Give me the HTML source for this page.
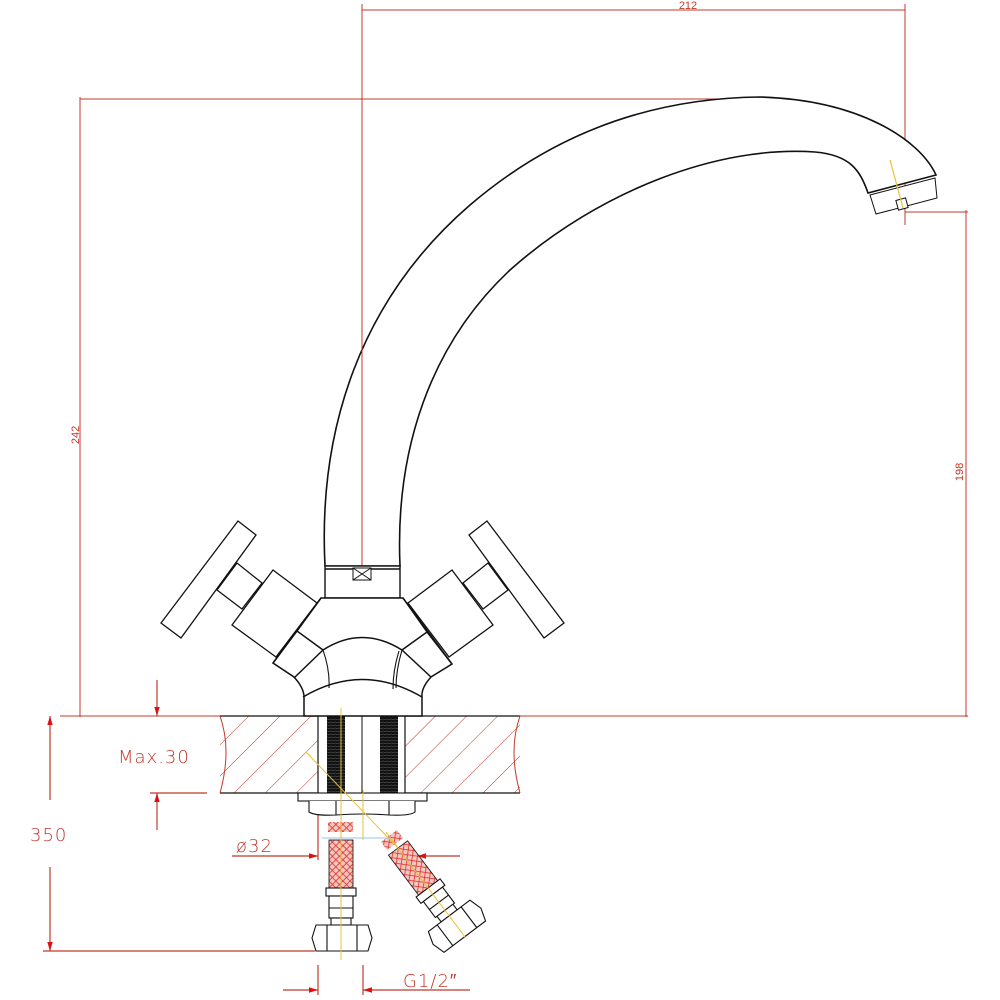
<!DOCTYPE html>
<html><head><meta charset="utf-8"><style>html,body{margin:0;padding:0;background:#fff}svg{display:block}</style></head>
<body>
<svg width="1000" height="1000" viewBox="0 0 1000 1000" xmlns="http://www.w3.org/2000/svg">
<defs>
<pattern id="hatch" width="22" height="22" patternUnits="userSpaceOnUse" patternTransform="rotate(45)">
<line x1="0" y1="0" x2="0" y2="22" stroke="#c0392b" stroke-width="1"/></pattern>
<pattern id="cross" width="5" height="5" patternUnits="userSpaceOnUse" patternTransform="rotate(45)">
<rect width="5" height="5" fill="#f3c6c0"/>
<line x1="0" y1="0" x2="0" y2="5" stroke="#e0302a" stroke-width="1.6"/>
<line x1="0" y1="0" x2="5" y2="0" stroke="#e0302a" stroke-width="1.6"/></pattern>
<pattern id="thread" width="4" height="3" patternUnits="userSpaceOnUse">
<rect width="4" height="3" fill="#111"/><line x1="0" y1="2.5" x2="4" y2="2" stroke="#666" stroke-width="0.6"/></pattern>
<marker id="ar" viewBox="0 0 10 10" refX="10" refY="5" markerWidth="9" markerHeight="9" orient="auto-start-reverse" markerUnits="userSpaceOnUse"><path d="M0,2 L10,5 L0,8z" fill="#d11"/></marker>
</defs>

<g stroke="#c0392b" stroke-width="1" fill="none">
<line x1="905" y1="4" x2="905" y2="225"/>
<line x1="362" y1="10" x2="905" y2="10"/>
<line x1="80" y1="99" x2="760" y2="99"/>
<line x1="80" y1="97" x2="80" y2="717"/>
<line x1="905" y1="212" x2="968" y2="212"/>
<line x1="966" y1="210" x2="966" y2="717"/>
<line x1="405" y1="716" x2="968" y2="716"/>
<line x1="60" y1="716" x2="220" y2="716"/>
</g>
<g fill="#c0392b" font-family="Liberation Sans, sans-serif" font-size="11">
<text x="688" y="9" text-anchor="middle">212</text>
<text transform="translate(79,435) rotate(-90)" text-anchor="middle">242</text>
<text transform="translate(963,472) rotate(-90)" text-anchor="middle">198</text>
</g>

<rect x="220" y="716" width="300" height="77" fill="url(#hatch)"/>
<rect x="318" y="716" width="87" height="77" fill="#fff"/>
<g stroke="#111" stroke-width="1.2" fill="none">
<line x1="220" y1="716" x2="318" y2="716"/><line x1="405" y1="716" x2="520" y2="716"/>
<line x1="220" y1="793" x2="318" y2="793"/><line x1="405" y1="793" x2="520" y2="793"/>
<line x1="318" y1="716" x2="318" y2="793"/><line x1="405" y1="716" x2="405" y2="793"/>
</g>
<path d="M220,716 Q232,750 220,793 M520,716 Q508,750 520,793" stroke="#c0392b" fill="none"/>
<rect x="327" y="716" width="18" height="77" fill="url(#thread)"/>
<rect x="380" y="716" width="18" height="77" fill="url(#thread)"/>
<line x1="362" y1="716" x2="362" y2="793" stroke="#111"/>

<g stroke="#c0392b" stroke-width="1.2" fill="none">
<line x1="157" y1="680" x2="157" y2="716" marker-end="url(#ar)"/>
<line x1="157" y1="830" x2="157" y2="793" marker-end="url(#ar)"/>
<line x1="150" y1="793" x2="207" y2="793"/>
<line x1="50" y1="800" x2="50" y2="716" marker-end="url(#ar)"/>
<line x1="50" y1="867" x2="50" y2="951" marker-end="url(#ar)"/>
<line x1="43" y1="951" x2="315" y2="951"/>
<line x1="232" y1="856" x2="318" y2="856" marker-end="url(#ar)"/>
<line x1="460" y1="856" x2="417" y2="856" marker-end="url(#ar)"/>
<line x1="318" y1="805" x2="318" y2="860"/>
<line x1="283" y1="990" x2="318" y2="990" marker-end="url(#ar)"/>
<line x1="470" y1="990" x2="363" y2="990" marker-end="url(#ar)"/>
<line x1="318" y1="965" x2="318" y2="995"/><line x1="363" y1="965" x2="363" y2="995"/>
</g>
<g fill="#c0392b" font-family="DejaVu Sans, sans-serif" font-size="18" font-weight="200" letter-spacing="1">
<text x="118" y="763">Max.30</text>
<text x="30" y="841">350</text>
<text x="236" y="852">ø32</text>
<text x="403" y="987">G1/2″</text>
</g>

<g stroke="#111" stroke-width="1.6" fill="#fff">
<path d="M325,566 C318,430 360,300 470,205 C560,128 660,98 760,97 C860,100 920,140 936,175 L868,193 C860,170 850,155 815,152 C720,145 600,190 510,270 C430,345 395,450 400,566 Z"/>
<path d="M870,195 L935,178 L937,198 L876,214 Z" stroke-width="1"/>
<rect x="897" y="199" width="10" height="10" stroke-width="1" transform="rotate(-15 902 204)"/>
</g>
<line x1="890" y1="160" x2="903" y2="208" stroke="#e8c23a" stroke-width="1.2"/>
<line x1="362" y1="4" x2="362" y2="566" stroke="#c0392b"/>

<g stroke="#111" stroke-width="1.4" fill="#fff">
<rect x="325" y="566" width="75" height="32"/>
<line x1="325" y1="569" x2="400" y2="569"/>
<rect x="353" y="568" width="18" height="12" stroke-width="1"/>
<path d="M353,568 L371,580 M371,568 L353,580" stroke-width="1"/>
</g>

<g id="hl" stroke="#111" stroke-width="1.3" fill="#fff">
<polygon points="161,623 238,521 256,535 181,638"/>
<polygon points="217,590 237,563 262,583 242,609"/>
<polygon points="232,625 273,570 317,603 276,657"/>
</g>
<use href="#hl" transform="translate(725,0) scale(-1,1)"/>

<g stroke="#111" stroke-width="1.5" fill="#fff">
<path d="M321,598 L403,598 L452,664 L431,677 Q421,688 422,697 L422,716 L304,716 L304,697 Q304,688 294,677 L273,663 Z"/>
<path d="M273,663 L297,631 L323,650 L294,678 M452,664 L427,632 L402,650 L431,677" fill="none"/>
<path d="M297,631 L321,598 M427,632 L403,598" fill="none"/>
<path d="M323,650 Q362,625 402,650" fill="none"/>
<path d="M303,697 Q362,662 422,697" fill="none"/>
<path d="M323,650 Q330,670 329,688 M402,650 Q396,670 396,688 M399,651 Q393,670 393,689" fill="none" stroke-width="1.1"/>
</g>

<g stroke="#111" stroke-width="1.1" fill="#fff">
<rect x="298" y="793" width="129" height="8"/>
<path d="M309,801 L309,812 Q315,816 336,815 Q362,813 389,815 Q410,816 415,812 L415,801"/>
<line x1="336" y1="801" x2="336" y2="815"/><line x1="389" y1="801" x2="389" y2="815"/>
</g>

<rect x="328" y="822" width="25" height="10" fill="url(#cross)"/>
<rect x="329" y="840" width="24" height="50" fill="url(#cross)" stroke="#111" stroke-width="0.8"/>
<g stroke="#111" stroke-width="1.1" fill="#fff">
<rect x="326" y="888" width="30" height="8"/>
<rect x="329" y="896" width="24" height="22"/>
<line x1="329" y1="908" x2="353" y2="908"/>
<rect x="331" y="918" width="20" height="7"/>
<path d="M316,925 L368,925 L372,938 L368,951 L316,951 L312,938 Z"/>
<line x1="327" y1="925" x2="327" y2="951"/><line x1="357" y1="925" x2="357" y2="951"/>
</g>
<line x1="341" y1="708" x2="341" y2="960" stroke="#e8c23a" stroke-width="1"/>

<g transform="translate(398,848) rotate(-37)">
<rect x="-10" y="-15" width="20" height="10" fill="url(#cross)"/>
<rect x="-12" y="0" width="24" height="52" fill="url(#cross)" stroke="#111" stroke-width="0.8"/>
<g stroke="#111" stroke-width="1.1" fill="#fff">
<rect x="-15" y="50" width="30" height="8"/>
<rect x="-12" y="58" width="24" height="20"/>
<line x1="-12" y1="68" x2="12" y2="68"/>
<rect x="-10" y="78" width="20" height="7"/>
<path d="M-26,85 L26,85 L30,98 L26,111 L-26,111 L-30,98 Z"/>
<line x1="-15" y1="85" x2="-15" y2="111"/><line x1="15" y1="85" x2="15" y2="111"/>
</g>
<line x1="0" y1="-20" x2="0" y2="112" stroke="#e8c23a" stroke-width="1"/>
</g>
<line x1="306" y1="752" x2="398" y2="848" stroke="#e8c23a" stroke-width="1"/>
<line x1="363" y1="790" x2="363" y2="840" stroke="#e8c23a" stroke-width="1"/>
<line x1="322" y1="838" x2="390" y2="838" stroke="#9cc3e6" stroke-width="1"/>
</svg>
</body></html>
